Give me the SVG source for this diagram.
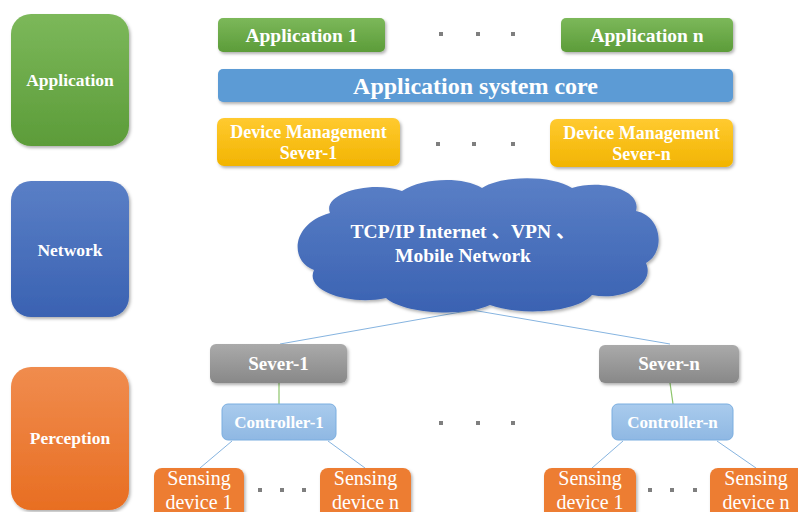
<svg xmlns="http://www.w3.org/2000/svg" width="798" height="512" viewBox="0 0 798 512">
<defs>
<linearGradient id="gGreen" x1="0" y1="0" x2="0" y2="1"><stop offset="0" stop-color="#7cb85a"/><stop offset="1" stop-color="#5c9c39"/></linearGradient>
<linearGradient id="gBlue" x1="0" y1="0" x2="0" y2="1"><stop offset="0" stop-color="#5a7fc6"/><stop offset="1" stop-color="#3a62b2"/></linearGradient>
<linearGradient id="gOrange" x1="0" y1="0" x2="0" y2="1"><stop offset="0" stop-color="#f08c4e"/><stop offset="1" stop-color="#e86e22"/></linearGradient>
<linearGradient id="gGold" x1="0" y1="0" x2="0" y2="1"><stop offset="0" stop-color="#ffca30"/><stop offset="1" stop-color="#f2b400"/></linearGradient>
<linearGradient id="gGray" x1="0" y1="0" x2="0" y2="1"><stop offset="0" stop-color="#aaaaaa"/><stop offset="1" stop-color="#888888"/></linearGradient>
<linearGradient id="gLight" x1="0" y1="0" x2="0" y2="1"><stop offset="0" stop-color="#a9cbed"/><stop offset="1" stop-color="#8fb8e3"/></linearGradient>
<filter id="sh" x="-10%" y="-10%" width="125%" height="130%"><feDropShadow dx="1.5" dy="2" stdDeviation="1.5" flood-color="#000" flood-opacity="0.3"/></filter>
</defs>
<style>
.b{font-family:"Liberation Serif","Noto Sans CJK SC",serif;font-weight:bold;fill:#fff;text-anchor:middle}
.r{font-family:"Liberation Serif","Noto Sans CJK SC",serif;fill:#fff;text-anchor:middle;font-size:20px}
.dot{fill:#7f7f7f}
.ln{stroke:#86b4e0;stroke-width:1;fill:none}
.lg{stroke:#8cc46a;stroke-width:1.2;fill:none}
</style>
<rect width="798" height="512" fill="#fff"/>

<g id="connectors">
<line class="ln" x1="472" y1="310" x2="280" y2="344"/>
<line class="ln" x1="472" y1="310" x2="670" y2="344"/>
<line class="lg" x1="279" y1="383" x2="279" y2="404"/>
<line class="lg" x1="670" y1="383" x2="673" y2="404"/>
<line class="ln" x1="232" y1="441" x2="200" y2="468"/>
<line class="ln" x1="328" y1="441" x2="365" y2="468"/>
<line class="ln" x1="623" y1="441" x2="592" y2="468"/>
<line class="ln" x1="717" y1="441" x2="756" y2="468"/>
</g>

<g id="layer-application"><rect x="11" y="14" width="118" height="132" rx="20" fill="url(#gGreen)" filter="url(#sh)"/><text class="b" x="70" y="86" font-size="17.5">Application</text></g>
<g id="layer-network"><rect x="11" y="181" width="118" height="136" rx="20" fill="url(#gBlue)" filter="url(#sh)"/><text class="b" x="70" y="256" font-size="17.5">Network</text></g>
<g id="layer-perception"><rect x="11" y="367" width="118" height="143" rx="20" fill="url(#gOrange)" filter="url(#sh)"/><text class="b" x="70" y="444" font-size="17.5">Perception</text></g>

<g id="app1"><rect x="218" y="18" width="167" height="34" rx="5" fill="url(#gGreen)" filter="url(#sh)"/><text class="b" x="301.5" y="42" font-size="19.5">Application 1</text></g>
<g id="appn"><rect x="561" y="18" width="172" height="34" rx="5" fill="url(#gGreen)" filter="url(#sh)"/><text class="b" x="647" y="42" font-size="19.5">Application n</text></g>
<g id="dots1"><rect class="dot" x="439" y="32" width="4" height="4"/><rect class="dot" x="476" y="32" width="4" height="4"/><rect class="dot" x="511" y="32" width="4" height="4"/></g>

<g id="core"><rect x="218" y="69" width="515" height="33" rx="5" fill="#5b9bd5" filter="url(#sh)"/><text class="b" x="475.5" y="94" font-size="24">Application system core</text></g>

<g id="dm1"><rect x="217" y="118" width="183" height="48" rx="7" fill="url(#gGold)" filter="url(#sh)"/><text class="b" x="308.5" y="138" font-size="18">Device Management</text><text class="b" x="308.5" y="159" font-size="18">Sever-1</text></g>
<g id="dmn"><rect x="550" y="119" width="183" height="48" rx="7" fill="url(#gGold)" filter="url(#sh)"/><text class="b" x="641.5" y="139" font-size="18">Device Management</text><text class="b" x="641.5" y="160" font-size="18">Sever-n</text></g>
<g id="dots2"><rect class="dot" x="436" y="142" width="4" height="4"/><rect class="dot" x="472" y="142" width="4" height="4"/><rect class="dot" x="511" y="142" width="4" height="4"/></g>

<g id="cloud">
<path d="M330 213 C322 194 370 180 402 191 C422 178 462 176 482 188 C502 175 552 175 572 188 C602 179 642 190 636 211 C662 216 666 252 646 263 C656 286 620 301 592 295 C576 313 520 316 490 305 C462 318 402 313 386 298 C350 306 304 291 314 270 C290 262 290 224 330 213 Z" fill="url(#gBlue)" filter="url(#sh)"/>
<text class="b" x="463" y="238" font-size="19.5">TCP/IP Internet 、VPN 、</text>
<text class="b" x="463" y="262" font-size="19.5">Mobile Network</text>
</g>

<g id="sever1"><rect x="210" y="344" width="137" height="39" rx="6" fill="url(#gGray)" filter="url(#sh)"/><text class="b" x="278.5" y="370" font-size="19">Sever-1</text></g>
<g id="severn"><rect x="599" y="345" width="140" height="38" rx="6" fill="url(#gGray)" filter="url(#sh)"/><text class="b" x="669" y="370" font-size="19">Sever-n</text></g>

<g id="ctrl1"><rect x="222" y="404" width="114" height="36" rx="6" fill="url(#gLight)" stroke="#7aaee0" stroke-width="1"/><text class="b" x="279" y="428" font-size="17">Controller-1</text></g>
<g id="ctrln"><rect x="612" y="404" width="121" height="36" rx="6" fill="url(#gLight)" stroke="#7aaee0" stroke-width="1"/><text class="b" x="672.5" y="428" font-size="17">Controller-n</text></g>
<g id="dots3"><rect class="dot" x="439" y="421" width="4" height="4"/><rect class="dot" x="476" y="421" width="4" height="4"/><rect class="dot" x="511" y="421" width="4" height="4"/></g>

<g id="sd1a"><rect x="154" y="468" width="90" height="52" rx="8" fill="#ed7d31" filter="url(#sh)"/><text class="r" x="199" y="485">Sensing</text><text class="r" x="199" y="509">device 1</text></g>
<g id="sdna"><rect x="320" y="468" width="91" height="52" rx="8" fill="#ed7d31" filter="url(#sh)"/><text class="r" x="365.5" y="485">Sensing</text><text class="r" x="365.5" y="509">device n</text></g>
<g id="dots4"><rect class="dot" x="258" y="488" width="4" height="4"/><rect class="dot" x="280" y="488" width="4" height="4"/><rect class="dot" x="302" y="488" width="4" height="4"/></g>

<g id="sd1b"><rect x="544" y="468" width="92" height="52" rx="8" fill="#ed7d31" filter="url(#sh)"/><text class="r" x="590" y="485">Sensing</text><text class="r" x="590" y="509">device 1</text></g>
<g id="sdnb"><rect x="710" y="468" width="96" height="52" rx="8" fill="#ed7d31" filter="url(#sh)"/><text class="r" x="756" y="485">Sensing</text><text class="r" x="756" y="509">device n</text></g>
<g id="dots5"><rect class="dot" x="648" y="488" width="4" height="4"/><rect class="dot" x="670" y="488" width="4" height="4"/><rect class="dot" x="693" y="488" width="4" height="4"/></g>
</svg>
